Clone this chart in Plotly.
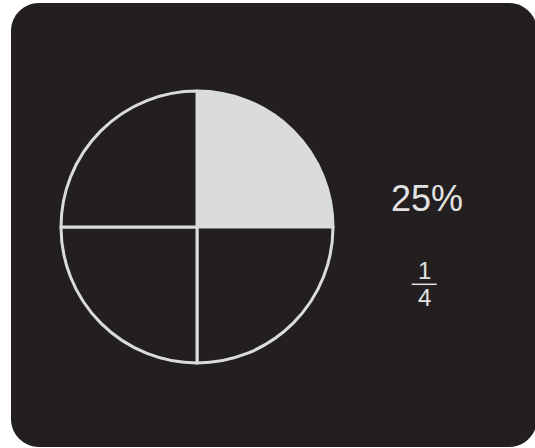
import plotly.graph_objects as go

W, H = 535, 448

# Data
slice_labels = ["shaded", "q2", "q3", "q4"]
slice_values = [1, 1, 1, 1]
percent_label = "25%"
frac_num = "1"
frac_den = "4"

DARK = "#231f20"
LIGHT = "#d9dcdb"
TEXT = "#e2e2e2"

# pie geometry in pixels
cx, cy, r = 197, 227, 136

def px(x):
    return x / W

def py(y):
    return 1 - y / H

fig = go.Figure()
fig.add_trace(go.Pie(
    labels=slice_labels,
    values=slice_values,
    sort=False,
    direction="clockwise",
    rotation=0,
    marker=dict(colors=[LIGHT, DARK, DARK, DARK], line=dict(color=LIGHT, width=3)),
    textinfo="none",
    hoverinfo="none",
    showlegend=False,
    domain=dict(x=[px(cx - r), px(cx + r)], y=[py(cy + r), py(cy - r)]),
))

# rounded background rectangle
x0, x1, y0, y1, rc = 11, 537, 3, 447, 28
k = 0.5523 * rc
def P(x, y):
    return f"{px(x):.5f},{py(y):.5f}"
path = (
    f"M {P(x0 + rc, y0)} L {P(x1 - rc, y0)} "
    f"C {P(x1 - rc + k, y0)} {P(x1, y0 + rc - k)} {P(x1, y0 + rc)} "
    f"L {P(x1, y1 - rc)} "
    f"C {P(x1, y1 - rc + k)} {P(x1 - rc + k, y1)} {P(x1 - rc, y1)} "
    f"L {P(x0 + rc, y1)} "
    f"C {P(x0 + rc - k, y1)} {P(x0, y1 - rc + k)} {P(x0, y1 - rc)} "
    f"L {P(x0, y0 + rc)} "
    f"C {P(x0, y0 + rc - k)} {P(x0 + rc - k, y0)} {P(x0 + rc, y0)} Z"
)

shapes = [
    dict(type="path", xref="paper", yref="paper", path=path,
         fillcolor=DARK, line=dict(width=0), layer="below"),
    dict(type="line", xref="paper", yref="paper",
         x0=px(411.7), x1=px(436.7), y0=py(284.3), y1=py(284.3),
         line=dict(color=TEXT, width=1.5)),
]

font = "Liberation Sans, Arial, sans-serif"
annotations = [
    dict(text=percent_label, x=px(427), y=py(198), xref="paper", yref="paper",
         showarrow=False, font=dict(family=font, size=36, color=TEXT),
         xanchor="center", yanchor="middle"),
    dict(text=frac_num, x=px(424), y=py(270.5), xref="paper", yref="paper",
         showarrow=False, font=dict(family=font, size=24, color=TEXT),
         xanchor="center", yanchor="middle"),
    dict(text=frac_den, x=px(424), y=py(297.5), xref="paper", yref="paper",
         showarrow=False, font=dict(family=font, size=24, color=TEXT),
         xanchor="center", yanchor="middle"),
]

fig.update_layout(
    width=W, height=H,
    margin=dict(l=0, r=0, t=0, b=0),
    paper_bgcolor="white",
    plot_bgcolor="white",
    shapes=shapes,
    annotations=annotations,
)

fig.write_html(
    "out.html",
    config={"displayModeBar": False},
    post_script="document.body.style.margin='0';document.body.style.overflow='hidden';",
)
